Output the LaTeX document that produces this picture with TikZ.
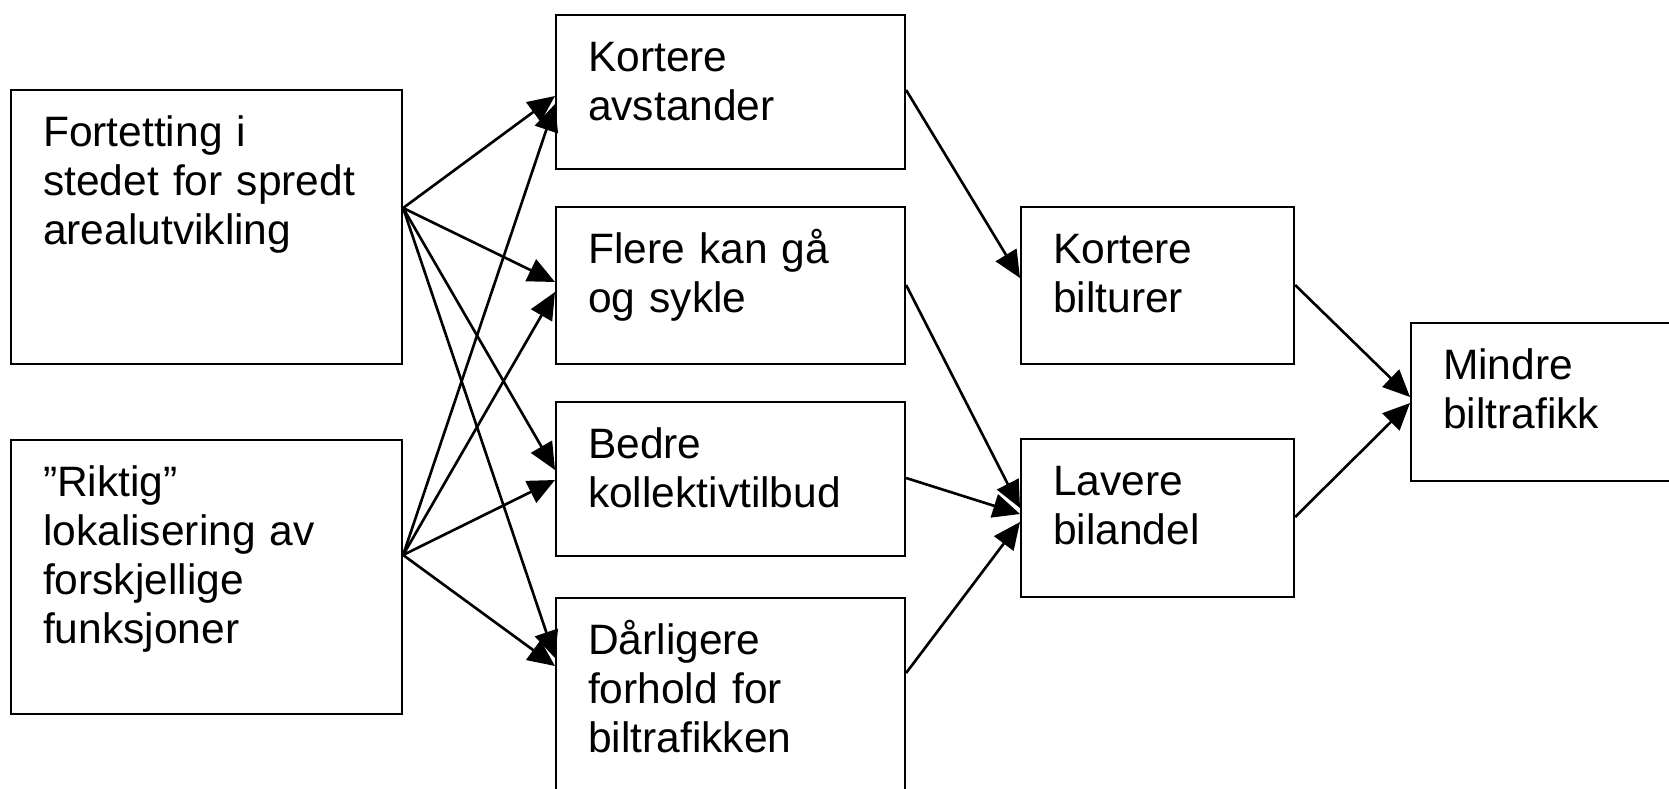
\documentclass[tikz,border=0pt]{standalone}
\usepackage{fontspec}
\setmainfont{Liberation Sans}
\usetikzlibrary{arrows.meta}
\tikzset{>={Triangle[length=2.7mm,width=2.4mm]},
         boks/.style={draw,line width=0.6pt,anchor=north west,align=left,inner xsep=3.2mm,inner ysep=0pt,text height=5.6mm,font=\fontsize{12.1}{14}\selectfont},
        }

\begin{document}
\begin{tikzpicture}[line width=0.75pt]
        \useasboundingbox(0,0)rectangle(16.69,-7.88);
        \clip(0,0)rectangle(16.69,-7.88);

        \node[boks,text width=32.7mm,text depth=21.8mm](a1)at(0.10,-0.89){Fortetting i\\stedet for spredt\\arealutvikling};
        \node[boks,text width=32.7mm,text depth=21.8mm](a2)at(0.10,-4.39){”Riktig”\\lokalisering av\\forskjellige\\funksjoner};

        \node[boks,text width=28.5mm,text depth=9.8mm](b1)at(5.55,-0.14){Kortere\\avstander};
        \node[boks,text width=28.5mm,text depth=10.1mm](b2)at(5.55,-2.06){Flere kan gå\\og sykle};
        \node[boks,text width=28.5mm,text depth=9.8mm](b3)at(5.55,-4.01){Bedre\\kollektivtilbud};
        \node[boks,text width=28.5mm,text depth=19.4mm](b4)at(5.55,-5.97){Dårligere\\forhold for\\biltrafikken};

        \node[boks,text width=20.9mm,text depth=10.1mm](c1)at(10.20,-2.06){Kortere\\bilturer};
        \node[boks,text width=20.9mm,text depth=10.2mm](c2)at(10.20,-4.38){Lavere\\bilandel};

        \node[boks,text width=23.6mm,text depth=10.2mm](d1)at(14.10,-3.22){Mindre\\biltrafikk};

        \draw[->]([yshift=-11.9mm]a1.north east)--([yshift=-8.2mm]b1.north west);
        \draw[->]([yshift=-11.9mm]a1.north east)--([yshift=-7.6mm]b2.north west);
        \draw[->]([yshift=-11.9mm]a1.north east)--([yshift=-6.9mm]b3.north west);
        \draw[->]([yshift=-11.9mm]a1.north east)--([yshift=-6.1mm]b4.north west);

        \draw[->]([yshift=-11.6mm]a2.north east)--([yshift=-9.0mm]b1.north west);
        \draw[->]([yshift=-11.6mm]a2.north east)--([yshift=-8.6mm]b2.north west);
        \draw[->]([yshift=-11.6mm]a2.north east)--([yshift=-7.9mm]b3.north west);
        \draw[->]([yshift=-11.6mm]a2.north east)--([yshift=-6.9mm]b4.north west);

        \draw[->]([yshift=-7.6mm]b1.north east)--([yshift=-7.2mm]c1.north west);
        \draw[->]([yshift=-7.9mm]b2.north east)--([yshift=-7.0mm]c2.north west);
        \draw[->]([yshift=-7.7mm]b3.north east)--([yshift=-7.6mm]c2.north west);
        \draw[->]([yshift=-7.6mm]b4.north east)--([yshift=-8.4mm]c2.north west);

        \draw[->]([yshift=-7.9mm]c1.north east)--([yshift=-7.5mm]d1.north west);
        \draw[->]([yshift=-7.9mm]c2.north east)--([yshift=-8.1mm]d1.north west);
    \end{tikzpicture}
\end{document}
